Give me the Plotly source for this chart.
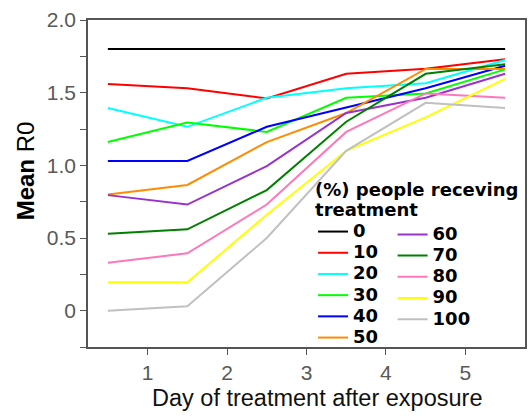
import plotly.graph_objects as go

days = [0.5, 1.5, 2.5, 3.5, 4.5, 5.5]
pct_labels = ["0", "10", "20", "30", "40", "50", "60", "70", "80", "90", "100"]
colors = ["#000000", "#FF0000", "#00FFFF", "#00FF00", "#0000FF", "#FF8C00",
          "#9932CC", "#008000", "#FF77BB", "#FFFF00", "#C0C0C0"]

r0_0 = [1.80, 1.80, 1.80, 1.80, 1.80, 1.80]
r0_10 = [1.56, 1.53, 1.46, 1.63, 1.665, 1.73]
r0_20 = [1.395, 1.265, 1.465, 1.53, 1.565, 1.725]
r0_30 = [1.16, 1.295, 1.23, 1.465, 1.495, 1.66]
r0_40 = [1.03, 1.03, 1.265, 1.395, 1.53, 1.685]
r0_50 = [0.80, 0.865, 1.16, 1.36, 1.663, 1.663]
r0_60 = [0.795, 0.73, 0.995, 1.36, 1.465, 1.63]
r0_70 = [0.53, 0.56, 0.83, 1.30, 1.63, 1.695]
r0_80 = [0.33, 0.395, 0.73, 1.23, 1.495, 1.465]
r0_90 = [0.195, 0.195, 0.66, 1.10, 1.33, 1.595]
r0_100 = [0.0, 0.03, 0.50, 1.10, 1.43, 1.395]

series = [r0_0, r0_10, r0_20, r0_30, r0_40, r0_50, r0_60, r0_70, r0_80, r0_90, r0_100]

y_tickvals = [-0.25, 0, 0.25, 0.5, 0.75, 1.0, 1.25, 1.5, 1.75, 2.0]
y_ticktext = ["", "0", "", "0.5", "", "1.0", "", "1.5", "", "2.0"]
x_tickvals = [1, 2, 3, 4, 5]

fig = go.Figure()
for i, (lab, vals, col) in enumerate(zip(pct_labels, series, colors)):
    fig.add_trace(go.Scatter(
        x=days, y=vals, mode="lines", name=f"<span style='font-size:18px'>{lab}</span>",
        line=dict(color=col, width=2),
        legend="legend" if i < 6 else "legend2",
        hoverinfo="skip",
    ))

axis_col = "#555555"
leg_font = dict(family="DejaVu Sans", size=14, color="#000000", weight="bold")
title_font = dict(family="DejaVu Sans", size=15, color="#000000", weight="bold")
fig.update_layout(
    width=529, height=416,
    margin=dict(l=88, r=2, t=20, b=69),
    paper_bgcolor="white", plot_bgcolor="white",
    showlegend=True,
    xaxis=dict(range=[0.25, 5.75], tickvals=x_tickvals, ticks="outside", ticklen=6,
               tickcolor=axis_col, showline=True, linecolor=axis_col, linewidth=1.5,
               mirror=True, showgrid=False, zeroline=False,
               tickfont=dict(family="Liberation Sans", size=21, color="#595959")),
    yaxis=dict(range=[-0.25, 2.0], tickvals=y_tickvals, ticktext=y_ticktext,
               ticks="outside", ticklen=6, tickcolor=axis_col, showline=True,
               linecolor=axis_col, linewidth=1.5, mirror=True, showgrid=False,
               zeroline=False,
               tickfont=dict(family="Liberation Sans", size=21, color="#595959")),
    legend=dict(x=0.515, y=0.52, xanchor="left", yanchor="top", bgcolor="rgba(255,255,255,0)",
                font=leg_font, borderwidth=0,
                title=dict(text="<span style='font-size:18px'>(%) people receving</span><br>"
                                "<span style='font-size:18px'>treatment</span>",
                           font=title_font)),
    legend2=dict(x=0.697, y=0.392, xanchor="left", yanchor="top", bgcolor="rgba(255,255,255,0)",
                 font=leg_font, borderwidth=0),
    annotations=[
        dict(text="Day of treatment after exposure", xref="paper", yref="paper",
             x=0.524, y=-0.156, xanchor="center", yanchor="middle", showarrow=False,
             font=dict(family="Liberation Sans", size=23.5, color="#111111")),
        dict(text="<b>Mean</b> R0", xref="paper", yref="paper", textangle=-90,
             x=-0.1435, y=0.538, xanchor="center", yanchor="middle", showarrow=False,
             font=dict(family="Liberation Sans", size=24, color="#000000")),
    ],
)

fig.write_html("out.html")
